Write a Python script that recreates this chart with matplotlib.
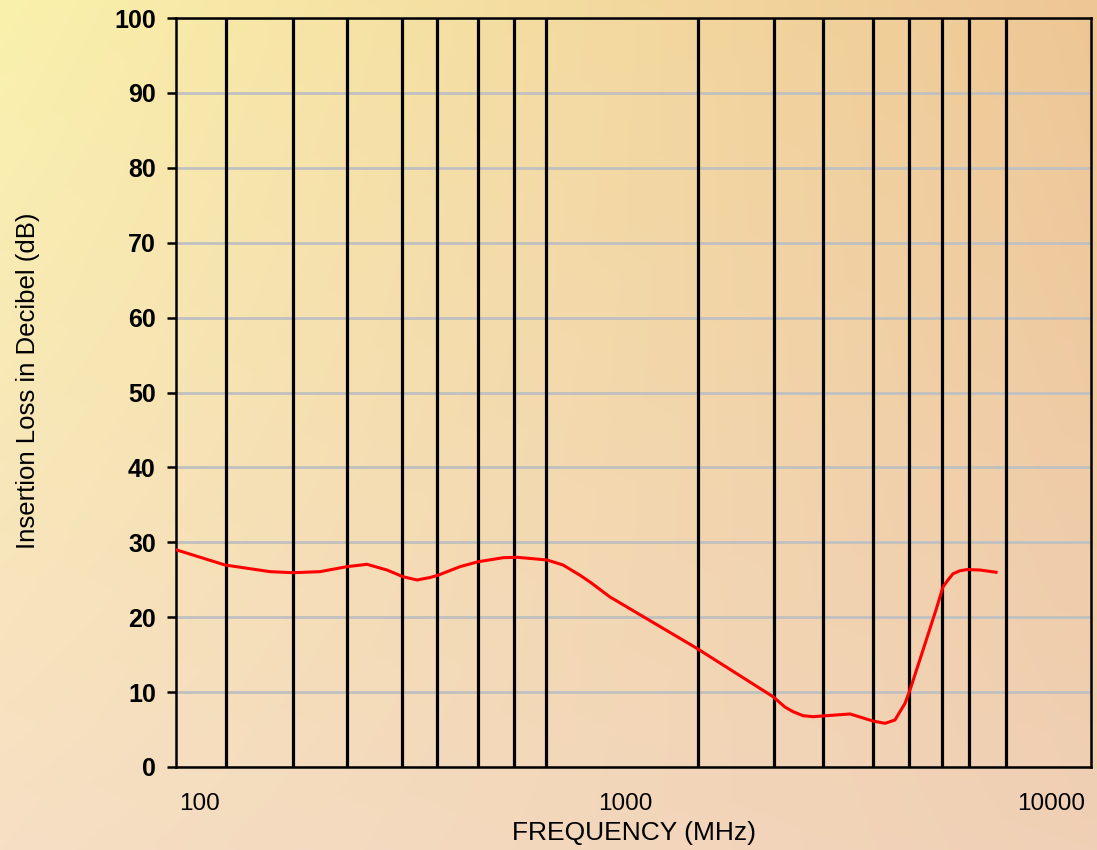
import numpy as np
import matplotlib
matplotlib.use("Agg")
import matplotlib.pyplot as plt
from matplotlib.ticker import FixedLocator, NullLocator

plt.rcParams['font.family'] = ['Liberation Sans', 'DejaVu Sans']

# Insertion loss curve (frequency in MHz, loss in dB)
freq_mhz = [88.3, 114.6, 146.2, 165.6, 191.6, 221.8, 247.2, 275.4, 300.4, 324.1,
            347.5, 362.9, 408.8, 450.6, 515.8, 556.6, 654.6, 713.9, 782.6, 826.1,
            920.4, 1472, 2224, 2373, 2478, 2616, 2761, 3374, 3820, 4078,
            4303, 4543, 4667, 5007, 5402, 5580, 5733, 5890, 6116, 6353,
            6817, 7434]
loss_db = [28.97, 26.97, 26.08, 25.94, 26.08, 26.75, 27.06, 26.3, 25.4, 24.97,
           25.3, 25.6, 26.75, 27.4, 27.94, 28.0, 27.64, 26.97, 25.6, 24.7,
           22.7, 15.85, 9.39, 8.0, 7.39, 6.85, 6.72, 7.08, 6.14, 5.83,
           6.28, 8.5, 10.28, 15.6, 21.4, 24.05, 24.97, 25.8, 26.2, 26.36,
           26.3, 26.0]

# Band marker frequencies (MHz)
band_freqs = [115.3, 165.6, 222, 298.8, 361, 450.6, 547.3, 651, 1482,
              2236, 2914, 3820, 4642, 5550, 6422, 7845]

x_ticks = [100, 1000, 10000]
x_tick_labels = ["100", "1000", "10000"]
y_ticks = list(range(0, 101, 10))

W, H = 1097, 850
fig = plt.figure(figsize=(W / 100, H / 100), dpi=100)

# Warm diagonal gradient background
bg = fig.add_axes([0, 0, 1, 1], zorder=-10)
c_tl = np.array([250, 241, 172]) / 255
c_tr = np.array([238, 198, 148]) / 255
c_bl = np.array([246, 223, 196]) / 255
c_br = np.array([240, 208, 182]) / 255
u = np.linspace(0, 1, 300)[None, :, None]
v = np.linspace(0, 1, 240)[:, None, None]
grad = (c_tl * (1 - u) * (1 - v) + c_tr * u * (1 - v)
        + c_bl * (1 - u) * v + c_br * u * v)
bg.imshow(grad, aspect='auto', extent=[0, 1, 0, 1], interpolation='bilinear')
bg.set_axis_off()

ax = fig.add_axes([176 / W, 1 - 767 / H, (1091 - 176) / W, (767 - 18) / H])
ax.set_facecolor('none')
ax.set_xscale('log')
ax.set_xlim(87.9, 12430)
ax.set_ylim(0, 100)

ax.yaxis.set_major_locator(FixedLocator(y_ticks))
ax.grid(axis='y', color='#c0c0c0', linewidth=2.0, zorder=1)
ax.set_axisbelow(True)

ax.vlines(band_freqs, 0, 100, colors='black', linewidth=2.3, zorder=2)
ax.plot(freq_mhz, loss_db, color='#ff0000', linewidth=2.2, zorder=3,
        solid_joinstyle='round')

ax.xaxis.set_major_locator(FixedLocator(x_ticks))
ax.xaxis.set_minor_locator(NullLocator())
ax.set_xticklabels(x_tick_labels)
ax.tick_params(axis='x', length=0, pad=19, labelsize=17.5)
ax.tick_params(axis='y', direction='out', length=6.5, width=1.8, pad=8,
               labelsize=18)
for lab in ax.get_yticklabels():
    lab.set_fontweight('bold')

for sp in ax.spines.values():
    sp.set_color('black')
    sp.set_linewidth(1.8)

ax.set_xlabel("FREQUENCY (MHz)", fontsize=19, labelpad=4)
fig.text(28 / W, 1 - 381 / H, "Insertion Loss in Decibel (dB)", rotation=90,
         fontsize=18.5, ha='center', va='center')

fig.savefig("out.png", dpi=100)
